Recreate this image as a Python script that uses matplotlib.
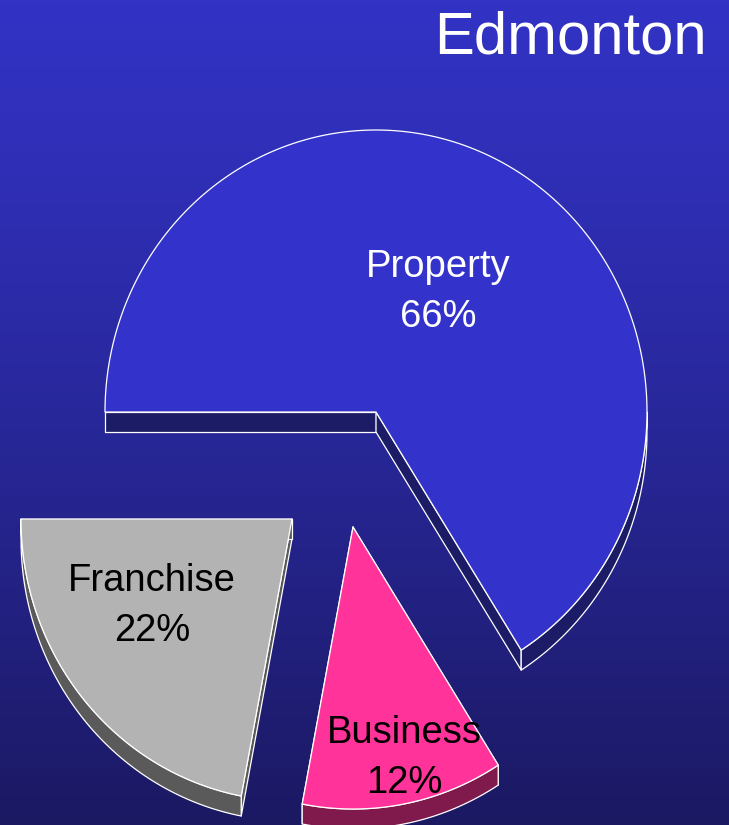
import numpy as np
import matplotlib
matplotlib.use("Agg")
import matplotlib.pyplot as plt
from matplotlib.patches import Polygon

# revenue shares, Edmonton
categories = ["Property", "Business", "Franchise"]
shares = [66, 12, 22]
top_colours = ["#3333cc", "#ff3399", "#b3b3b3"]
side_colours = ["#1c1c66", "#801a4d", "#5a5a5a"]
text_colours = ["white", "black", "black"]

# layout (pixel space, y down)
W, H = 729, 825
centre = np.array([376.0, 412.0])
rx, ry = 271.0, 282.0
depth = 20.0
offsets = [(0, 0), (-23, 115), (-84, 107)]
label_pos = [(438, 277), (404, 743), (152, 591)]  # baseline of first line
line_gap = 50

plt.rcParams["font.family"] = ["Liberation Sans", "DejaVu Sans"]

fig = plt.figure(figsize=(W / 100, H / 100), dpi=100)
ax = fig.add_axes([0, 0, 1, 1])
ax.set_xlim(0, W)
ax.set_ylim(H, 0)
ax.axis("off")

# vertical background gradient
top_bg = np.array([50, 50, 196]) / 255
bot_bg = np.array([27, 25, 98]) / 255
t = np.linspace(0, 1, 256)[:, None] ** 1.25
grad = top_bg * (1 - t) + bot_bg * t
ax.imshow(grad[:, None, :], extent=[0, W, H, 0], aspect="auto", zorder=0)


def pt(c, a):
    return np.array([c[0] + rx * np.cos(a), c[1] - ry * np.sin(a)])


start = np.pi
total = sum(shares)
edge_kw = dict(edgecolor="white", linewidth=0.9, joinstyle="round")
for i, (name, v) in enumerate(zip(categories, shares)):
    a0 = start
    a1 = start - 2 * np.pi * v / total
    start = a1
    c = centre + np.array(offsets[i], dtype=float)
    dv = np.array([0, depth])
    z = 2 + 3 * i

    # side walls under the two radial edges
    for a in (a0, a1):
        p = pt(c, a)
        quad = [c, p, p + dv, c + dv]
        ax.add_patch(Polygon(quad, closed=True, facecolor=side_colours[i], zorder=z, **edge_kw))

    # side wall under the front (lower) part of the arc
    for k in (-1, 0):
        s0 = max(a1, -np.pi + 2 * np.pi * k)
        s1 = min(a0, 2 * np.pi * k)
        if s1 <= s0:
            continue
        aa = np.linspace(s0, s1, 120)
        upper = np.array([pt(c, a) for a in aa])
        lower = upper[::-1] + dv
        ax.add_patch(Polygon(np.vstack([upper, lower]), closed=True,
                             facecolor=side_colours[i], zorder=z + 1, **edge_kw))

    # top face
    aa = np.linspace(a0, a1, 300)
    arc = np.array([pt(c, a) for a in aa])
    face = np.vstack([c, arc])
    ax.add_patch(Polygon(face, closed=True, facecolor=top_colours[i], zorder=z + 2, **edge_kw))

    lx, ly = label_pos[i]
    ax.text(lx, ly, name, color=text_colours[i], fontsize=27.5,
            ha="center", va="baseline", zorder=20)
    ax.text(lx, ly + line_gap, f"{v}%", color=text_colours[i], fontsize=27.5,
            ha="center", va="baseline", zorder=20)

ax.text(707, 53, "Edmonton", color="white", fontsize=43, ha="right",
        va="baseline", zorder=20)

fig.savefig("out.png", dpi=100)
